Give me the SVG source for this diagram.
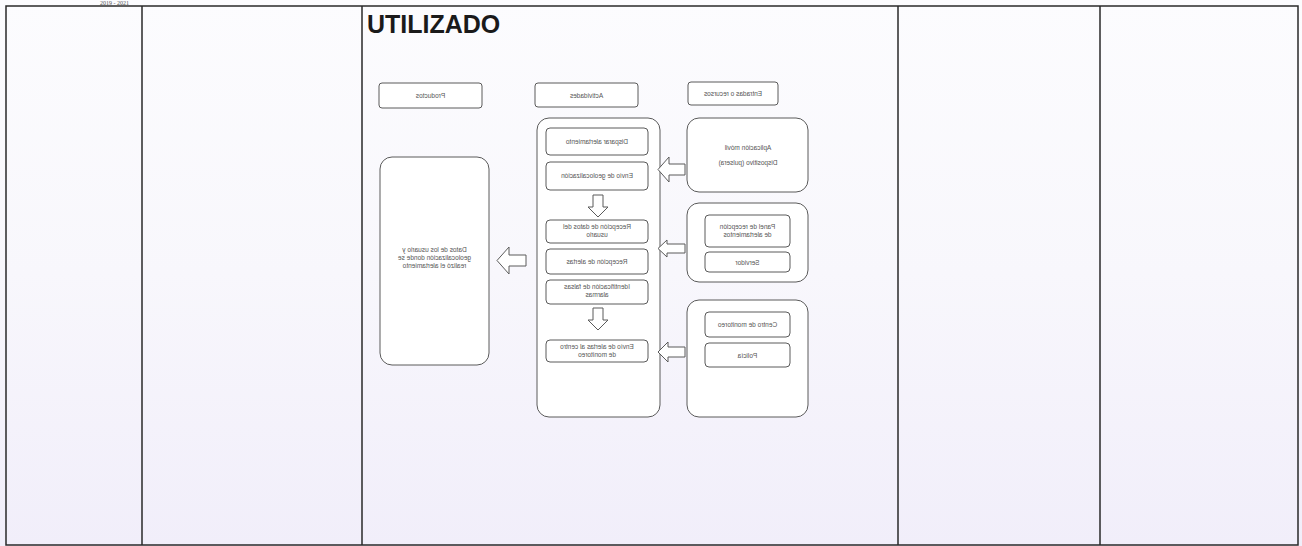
<svg xmlns="http://www.w3.org/2000/svg" width="1302" height="546" viewBox="0 0 1302 546">
<defs>
<linearGradient id="bg" x1="0" y1="0" x2="0" y2="1">
<stop offset="0" stop-color="#fcfcfe"/>
<stop offset="0.5" stop-color="#f8f7fc"/>
<stop offset="1" stop-color="#f1eefa"/>
</linearGradient>
<style>
.grid{stroke:#2a2a2a;stroke-width:1.5;fill:none}
.box{fill:#fff;stroke:#5a5a5a;stroke-width:1}
.arr{fill:#fff;stroke:#5a5a5a;stroke-width:1;stroke-linejoin:miter}
.t{font-family:"Liberation Sans",Arial,sans-serif;font-size:6.5px;fill:#555;text-anchor:middle}
.title{font-family:"Liberation Sans",Arial,sans-serif;font-size:25px;font-weight:bold;fill:#1a1a1a}
.hdr{font-family:"Liberation Serif",serif;font-size:6px;fill:#555}
</style>
</defs>
<rect width="1302" height="546" fill="url(#bg)"/>
<text class="hdr" x="100" y="5">2019 - 2021</text>
<g id="table">
<path class="grid" d="M6 6H1298V545H6Z M142 6V545 M362 6V545 M898 6V545 M1100 6V545"/>
</g>
<text class="title" x="367" y="33">UTILIZADO</text>

<g id="hdr-productos"><rect class="box" x="379" y="83" width="103" height="25" rx="3"/><text class="t" transform="translate(430.5,97.5) scale(-1,1)">Productos</text></g>
<g id="hdr-actividades"><rect class="box" x="535" y="83" width="103" height="24" rx="3"/><text class="t" transform="translate(586.5,97.5) scale(-1,1)">Actividades</text></g>
<g id="hdr-entradas"><rect class="box" x="688" y="82" width="90" height="23" rx="3"/><text class="t" transform="translate(733,96) scale(-1,1)">Entradas o recursos</text></g>

<g id="productos"><rect class="box" x="380" y="157" width="109" height="208" rx="12"/>
<text class="t" transform="translate(434.5,252) scale(-1,1)">Datos de los usuario y</text>
<text class="t" transform="translate(434.5,260) scale(-1,1)">geolocalización donde se</text>
<text class="t" transform="translate(434.5,268) scale(-1,1)">realizó el alertamiento</text></g>

<g id="actividades"><rect class="box" x="537" y="118" width="123" height="299" rx="12"/></g>
<g id="a1"><rect class="box" x="546" y="128" width="102" height="27" rx="4"/><text class="t" transform="translate(597,143.5) scale(-1,1)">Disparar alertamiento</text></g>
<g id="a2"><rect class="box" x="546" y="162" width="102" height="28" rx="4"/><text class="t" transform="translate(597,178) scale(-1,1)">Envío de geolocalización</text></g>
<g id="a3"><rect class="box" x="546" y="220" width="102" height="23" rx="4"/><text class="t" transform="translate(597,229) scale(-1,1)">Recepción de datos del</text><text class="t" transform="translate(597,237) scale(-1,1)">usuario</text></g>
<g id="a4"><rect class="box" x="546" y="249" width="102" height="25" rx="4"/><text class="t" transform="translate(597,263.5) scale(-1,1)">Recepción de alertas</text></g>
<g id="a5"><rect class="box" x="546" y="280" width="102" height="24" rx="4"/><text class="t" transform="translate(597,289) scale(-1,1)">Identificación de falsas</text><text class="t" transform="translate(597,297) scale(-1,1)">alarmas</text></g>
<g id="a6"><rect class="box" x="546" y="340" width="102" height="22" rx="4"/><text class="t" transform="translate(597,348.5) scale(-1,1)">Envío de alertas al centro</text><text class="t" transform="translate(597,356.5) scale(-1,1)">de monitoreo</text></g>

<g id="entradas1"><rect class="box" x="687" y="118" width="121" height="74" rx="12"/>
<text class="t" transform="translate(748,150) scale(-1,1)">Aplicación móvil</text>
<text class="t" transform="translate(748,165) scale(-1,1)">Dispositivo (pulsera)</text></g>
<g id="entradas2"><rect class="box" x="687" y="203" width="121" height="79" rx="12"/>
<rect class="box" x="705" y="215" width="85" height="32" rx="4"/>
<text class="t" transform="translate(747.5,229) scale(-1,1)">Panel de recepción</text>
<text class="t" transform="translate(747.5,237) scale(-1,1)">de alertamientos</text>
<rect class="box" x="705" y="252" width="85" height="20" rx="4"/>
<text class="t" transform="translate(747.5,264.5) scale(-1,1)">Servidor</text></g>
<g id="entradas3"><rect class="box" x="687" y="300" width="121" height="117" rx="12"/>
<rect class="box" x="705" y="312" width="85" height="25" rx="4"/>
<text class="t" transform="translate(747.5,326.5) scale(-1,1)">Centro de monitoreo</text>
<rect class="box" x="705" y="343" width="85" height="24" rx="4"/>
<text class="t" transform="translate(747.5,357.5) scale(-1,1)">Policía</text></g>

<g id="connectors">
<path class="arr" d="M497 260.5 L509 247 V255 H526 V266 H509 V274 Z"/>
<path class="arr" d="M658 169.5 L669 157 V164 H685 V175 H669 V182 Z"/>
<path class="arr" d="M658 248.5 L667 240 V244 H685 V253 H667 V257 Z"/>
<path class="arr" d="M658 352 L668 342 V347 H685 V357 H668 V362 Z"/>
<path class="arr" d="M593 195 H603 V207 H608 L598 217 L588 207 H593 Z"/>
<path class="arr" d="M593 308 H603 V320 H608 L598 330 L588 320 H593 Z"/>
</g>
</svg>
